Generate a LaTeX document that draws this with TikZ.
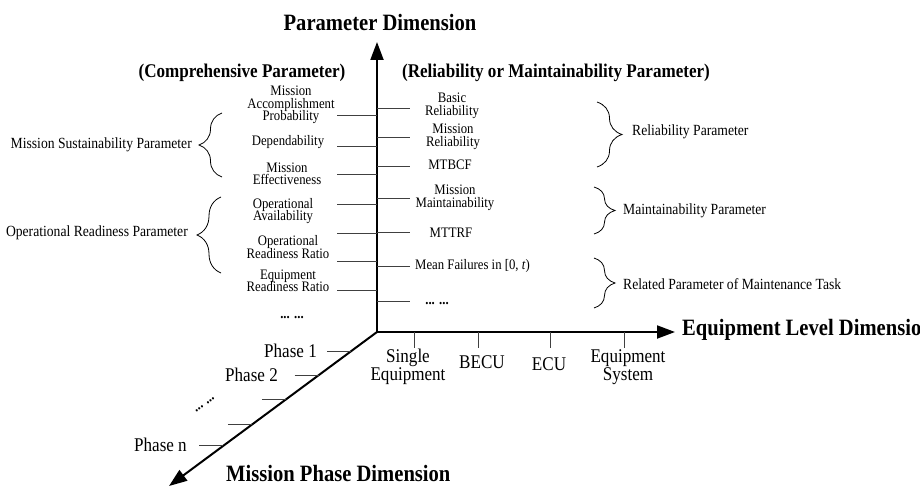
\documentclass[tikz,border=0pt]{standalone}
\usepackage{fontspec}
\setmainfont{Liberation Serif}[FakeStretch=0.88]
\usetikzlibrary{arrows.meta,decorations.pathreplacing}
\tikzset{
  axisline/.style={line width=2pt, -{Triangle[length=18pt,width=13pt]}},
  tickline/.style={line width=0.9pt, black!75},
  lbl/.style={inner sep=0pt, align=center, font=\fontsize{14.5}{12.5}\selectfont},
  dotlbl/.style={inner sep=0pt, font=\fontsize{14.5}{12.5}\selectfont\bfseries},
  grp/.style={inner sep=0pt, font=\fontsize{15.5}{16}\selectfont},
  big/.style={inner sep=0pt, align=center, font=\fontsize{19.4}{17.5}\selectfont},
  ttl/.style={inner sep=0pt, font=\fontsize{23.4}{24}\selectfont\bfseries},
  subttl/.style={inner sep=0pt, font=\fontsize{19.4}{20}\selectfont\bfseries},
  brc/.style={decorate, decoration={brace, amplitude=#1}, line width=0.8pt},
}
\begin{document}
\lineskiplimit=-50pt\relax
\begin{tikzpicture}[x=1pt,y=-1pt]
\useasboundingbox (0,0) rectangle (920,492);
% axes
\coordinate (O) at (377,332);
\coordinate (Ytip) at (377,42);
\coordinate (Xtip) at (675,332);
\coordinate (Ztip) at (169,486);
\draw[axisline] (O) -- (Ytip);
\draw[axisline] (O) -- (Xtip);
\draw[axisline] (O) -- (Ztip);

% titles
\node[ttl] (tP) at (380,22) {Parameter Dimension};
\node[subttl] (tC) at (242,73) {(Comprehensive Parameter)};
\node[subttl] (tR) at (556,73) {(Reliability or Maintainability Parameter)};
\node[ttl, anchor=west] (tE) at (682,330) {Equipment Level Dimension};
\node[ttl, anchor=west] (tM) at (226,473) {Mission Phase Dimension};

% left parameter ticks
\foreach \y [count=\i] in {115,146,174,204,233,261,290} {
  \coordinate (La\i) at (337,\y);
  \coordinate (Lb\i) at (377,\y);
  \draw[tickline] (La\i) -- (Lb\i);
}
\node[lbl] (map) at (291,105) {Mission\\Accomplishment\\Probability};
\node[lbl] (dep) at (288,142) {Dependability};
\node[lbl] (mef) at (287,174) {Mission\\Effectiveness};
\node[lbl] (oav) at (283,211) {Operational\\Availability};
\node[lbl] (orr) at (288,247) {Operational\\Readiness Ratio};
\node[lbl] (err) at (288,281) {Equipment\\Readiness Ratio};
\node[dotlbl] (ldots) at (292,318) {... ...};

% right parameter ticks
\foreach \y [count=\i] in {108,137,166,198,232,266,301} {
  \coordinate (Ra\i) at (377,\y);
  \coordinate (Rb\i) at (410,\y);
  \draw[tickline] (Ra\i) -- (Rb\i);
}
\node[lbl] (bre) at (452,106) {Basic\\Reliability};
\node[lbl] (mre) at (453,137) {Mission\\Reliability};
\node[lbl] (mtbcf) at (450,165) {MTBCF};
\node[lbl] (mma) at (455,198) {Mission\\Maintainability};
\node[lbl] (mttrf) at (451,233) {MTTRF};
\node[lbl, anchor=west] (mfa) at (415,266) {Mean Failures in [0, \textit{t})};
\node[dotlbl] (rdots) at (437,304) {... ...};

% braces left
\coordinate (B1a) at (222,177); \coordinate (B1b) at (222,113);
\draw[brc=23pt] (B1a) -- (B1b);
\node[grp, anchor=east] (msp) at (192,145) {Mission Sustainability Parameter};
\coordinate (B2a) at (221,273); \coordinate (B2b) at (221,197);
\draw[brc=24pt] (B2a) -- (B2b);
\node[grp, anchor=east] (orp) at (188,233) {Operational Readiness Parameter};

% braces right
\coordinate (B3a) at (597,102); \coordinate (B3b) at (597,167);
\draw[brc=25pt] (B3a) -- (B3b);
\node[grp, anchor=west] (rp) at (632,132) {Reliability Parameter};
\coordinate (B4a) at (594,187); \coordinate (B4b) at (594,234);
\draw[brc=21pt] (B4a) -- (B4b);
\node[grp, anchor=west] (mp) at (623,211) {Maintainability Parameter};
\coordinate (B5a) at (594,258); \coordinate (B5b) at (594,308);
\draw[brc=21pt] (B5a) -- (B5b);
\node[grp, anchor=west] (rpm) at (623,284) {Related Parameter of Maintenance Task};

% equipment level ticks
\foreach \x [count=\i] in {414,478,550,624} {
  \coordinate (Ea\i) at (\x,332);
  \coordinate (Eb\i) at (\x,348);
  \draw[tickline] (Ea\i) -- (Eb\i);
}
\node[big] (se) at (408,367) {Single\\Equipment};
\node[big] (becu) at (482,362) {BECU};
\node[big] (ecu) at (549,364) {ECU};
\node[big] (es) at (628,367) {Equipment\\System};

% phase ticks
\foreach \y [count=\i] in {351,375,399,424,445} {
  \pgfmathsetmacro{\xa}{377-1.3595*(\y-332)}
  \coordinate (Pb\i) at (\xa,\y);
  \coordinate (Pa\i) at (\xa-24,\y);
  \draw[tickline] (Pa\i) -- (Pb\i);
}
\node[big, anchor=east] (p1) at (317,351) {Phase 1};
\node[big, anchor=east] (p2) at (278,375) {Phase 2};
\node[dotlbl, rotate=36] (pdots) at (205,405) {... ...};
\node[big, anchor=east] (pn) at (187,445) {Phase n};
\end{tikzpicture}
\end{document}
